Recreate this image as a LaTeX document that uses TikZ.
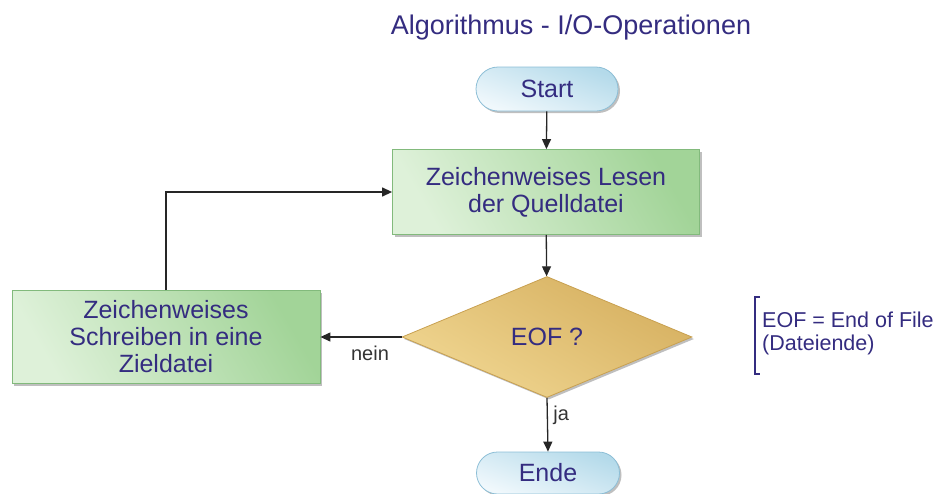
\documentclass[tikz,border=0pt]{standalone}
\usepackage{fontspec}
\setmainfont{Liberation Sans}
\usetikzlibrary{arrows.meta,shapes.geometric,shapes.misc,shadows}
\definecolor{txt}{RGB}{52,44,128}
\definecolor{pillA}{RGB}{240,248,252}
\definecolor{pillB}{RGB}{180,218,234}
\definecolor{pillE}{RGB}{140,190,214}
\definecolor{boxA}{RGB}{222,241,217}
\definecolor{boxB}{RGB}{162,212,152}
\definecolor{boxE}{RGB}{130,186,124}
\definecolor{decA}{RGB}{240,214,145}
\definecolor{decB}{RGB}{214,176,96}
\definecolor{decE}{RGB}{200,160,80}
\tikzset{
  x=1pt, y=-1pt,
  every node/.style={font=\fontsize{25}{27}\selectfont, text=txt},
  shd/.style={drop shadow={shadow xshift=2pt, shadow yshift=-2pt, opacity=0.25, fill=black}},
  terminal/.style={shd, rounded rectangle, draw=pillE, line width=0.8pt,
    left color=pillA, right color=pillB, shading angle=160,
    minimum width=142pt, minimum height=44pt, inner sep=0pt},
  process/.style={shd, rectangle, draw=boxE, line width=0.8pt,
    left color=boxA, right color=boxB, shading angle=120,
    minimum width=307pt, inner sep=0pt, align=center},
  decision/.style={shd, diamond, draw=decE, line width=0.8pt,
    left color=decA, right color=decB, shading angle=150,
    minimum width=290pt, minimum height=121pt, aspect=2.4, inner sep=0pt},
  flow/.style={draw=black!85, line width=1.3pt, -{Triangle[length=10pt,width=9pt]}},
  lbl/.style={font=\fontsize{20}{22}\selectfont, text=black!80},
}
\begin{document}
\begin{tikzpicture}
\useasboundingbox (0,0) rectangle (947,493);
\node (title) at (571,28) {\fontsize{27}{30}\selectfont Algorithmus - I/O-Operationen};
\node[terminal] (start) at (547,89) {Start};
\node[process, minimum height=85pt] (read) at (546,192) {Zeichenweises Lesen\\der Quelldatei};
\node[decision] (eof) at (547,337) {EOF ?};
\node[process, minimum width=308pt, minimum height=93pt] (write) at (166,337)
  {Zeichenweises\\Schreiben in eine\\Zieldatei};
\node[terminal, minimum width=143pt, minimum height=42pt] (end) at (548,473) {Ende};
\coordinate (corner) at (166,192);
\draw[flow] (start) -- (read);
\draw[flow] (read) -- (eof);
\draw[flow] (eof.west) -- node[lbl, below=5pt, xshift=9pt] {nein} (write.east);
\draw[flow] (eof.south) -- node[lbl, right=2pt, pos=0.33] {ja} (end.north);
\draw[flow] (write.north) -- (corner) -- (read.west);
% note with a square bracket
\coordinate (bt) at (755,297);
\coordinate (bb) at (755,374);
\draw[txt, line width=1.4pt] ([xshift=5pt]bt) -- (bt) -- (bb) -- ([xshift=5pt]bb);
\node[anchor=west, align=left, font=\fontsize{21.5}{23}\selectfont, inner sep=0pt] (note) at (762,333)
  {EOF = End of File\\(Dateiende)};
\end{tikzpicture}
\end{document}
